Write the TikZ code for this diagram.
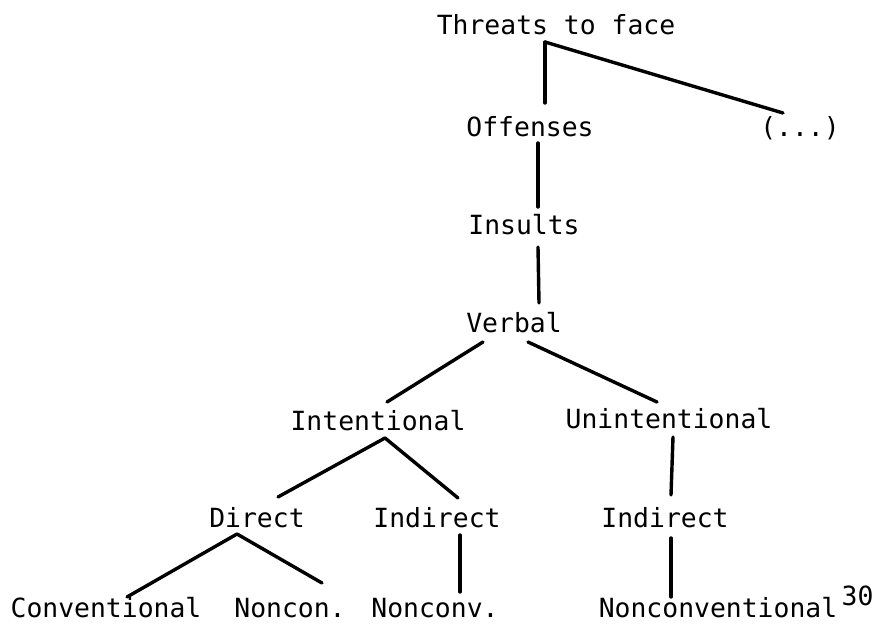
\documentclass[tikz,border=0pt]{standalone}
\usepackage{fontspec}
\newfontfamily\lbfont{DejaVu Sans Mono}
\usetikzlibrary{calc}
\begin{document}
\begin{tikzpicture}[x=1pt,y=-1pt,
  lbl/.style={font=\lbfont\fontsize{26.4}{30}\selectfont, inner sep=0pt, anchor=base},
  suplbl/.style={font=\lbfont\fontsize{26.4}{30}\selectfont, inner sep=0pt, anchor=base west},
  edge/.style={line width=3.4pt, line cap=round}]
\useasboundingbox[fill=white] (0,0) rectangle (878,628);
% nodes
\node[lbl] (threats) at (556,35) {Threats to face};
\node[lbl] (offenses) at (530,137) {Offenses};
\node[lbl] (etc) at (800,137) {(...)};
\node[lbl] (insults) at (524,235) {Insults};
\node[lbl] (verbal) at (514,332) {Verbal};
\node[lbl] (intent) at (378,430) {Intentional};
\node[lbl] (unint) at (669,428) {Unintentional};
\node[lbl] (direct) at (257,527) {Direct};
\node[lbl] (indirect) at (437,527) {Indirect};
\node[lbl] (indirectr) at (665,527) {Indirect};
\node[lbl] (conv) at (106,617) {Conventional};
\node[lbl] (noncon) at (290,617) {Noncon.};
\node[lbl] (nonconv) at (435,617) {Nonconv.};
\node[lbl] (ncl) at (718,617) {Nonconventional};
\node[suplbl] (fn) at ($(ncl.base east)+(4,-12)$) {30};
% connectors
\draw[edge] ($(threats.base)+(-11,7)$) -- ($(offenses.base)+(15,-34)$);
\draw[edge] ($(threats.base)+(-11,7)$) -- ($(etc.base)+(-17,-24)$);
\draw[edge] ($(offenses.base)+(8,6)$) -- ($(insults.base)+(14,-28)$);
\draw[edge] ($(insults.base)+(14,12)$) -- ($(verbal.base)+(25,-29)$);
\draw[edge] ($(verbal.base)+(-31,10)$) -- ($(intent.base)+(9,-28)$);
\draw[edge] ($(verbal.base)+(14,10)$) -- ($(unint.base)+(-12,-26)$);
\draw[edge] ($(intent.base)+(7,8)$) -- ($(direct.base)+(21,-30)$);
\draw[edge] ($(intent.base)+(7,8)$) -- ($(indirect.base)+(21,-29)$);
\draw[edge] ($(unint.base)+(4,9)$) -- ($(indirectr.base)+(6,-32)$);
\draw[edge] ($(direct.base)+(-20,7)$) -- ($(conv.base)+(21,-20)$);
\draw[edge] ($(direct.base)+(-20,7)$) -- ($(noncon.base)+(32,-34)$);
\draw[edge] ($(indirect.base)+(23,8)$) -- ($(nonconv.base)+(25,-25)$);
\draw[edge] ($(indirectr.base)+(6,11)$) -- ($(ncl.base)+(-47,-20)$);
\end{tikzpicture}
\end{document}
